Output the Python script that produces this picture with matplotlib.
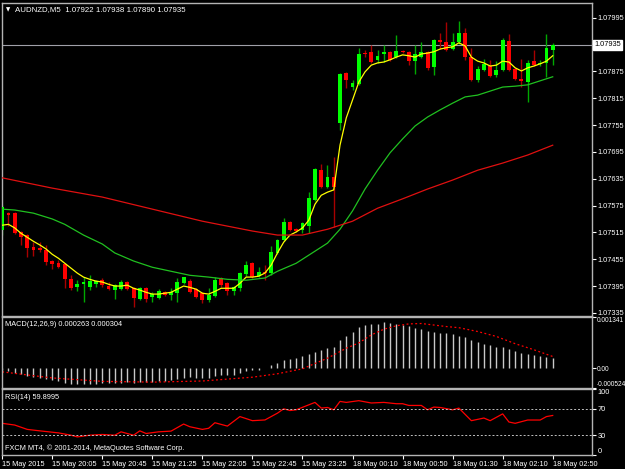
import matplotlib
matplotlib.use("Agg")
import matplotlib.pyplot as plt

plt.rcParams['font.family'] = ['Liberation Sans', 'DejaVu Sans']

# ---- data (AUDNZD, M5) ----
open_ = [1.07520, 1.07558, 1.07558, 1.07516, 1.07509, 1.07482, 1.07480, 1.07475, 1.07451, 1.07446,
         1.07444, 1.07410, 1.07392, 1.07399, 1.07392, 1.07399, 1.07408, 1.07395, 1.07386, 1.07388,
         1.07404, 1.07390, 1.07366, 1.07390, 1.07370, 1.07368, 1.07381, 1.07375, 1.07379, 1.07401,
         1.07406, 1.07388, 1.07379, 1.07363, 1.07372, 1.07413, 1.07401, 1.07383, 1.07390, 1.07422,
         1.07446, 1.07417, 1.07426, 1.07424, 1.07469, 1.07498, 1.07538, 1.07522, 1.07520, 1.07529,
         1.07587, 1.07654, 1.07616, 1.07639, 1.07760, 1.07872, 1.07840, 1.07847, 1.07916, 1.07919,
         1.07901, 1.07914, 1.07919, 1.07907, 1.07921, 1.07919, 1.07898, 1.07907, 1.07919, 1.07885,
         1.07945, 1.07941, 1.07925, 1.07941, 1.07961, 1.07907, 1.07856, 1.07878, 1.07887, 1.07867,
         1.07878, 1.07943, 1.07880, 1.07858, 1.07851, 1.07898, 1.07892, 1.07894, 1.07922]
high = [1.07576, 1.07560, 1.07560, 1.07518, 1.07511, 1.07493, 1.07493, 1.07487, 1.07453, 1.07453,
        1.07446, 1.07419, 1.07408, 1.07415, 1.07419, 1.07408, 1.07413, 1.07404, 1.07399, 1.07408,
        1.07406, 1.07392, 1.07392, 1.07392, 1.07381, 1.07388, 1.07383, 1.07390, 1.07413, 1.07415,
        1.07410, 1.07390, 1.07381, 1.07390, 1.07415, 1.07415, 1.07404, 1.07395, 1.07426, 1.07451,
        1.07448, 1.07437, 1.07442, 1.07484, 1.07500, 1.07547, 1.07540, 1.07525, 1.07538, 1.07605,
        1.07659, 1.07668, 1.07666, 1.07684, 1.07872, 1.07874, 1.07856, 1.07928, 1.07923, 1.07934,
        1.07923, 1.07934, 1.07921, 1.07957, 1.07923, 1.07921, 1.07934, 1.07941, 1.07921, 1.07948,
        1.07961, 1.07986, 1.07961, 1.07988, 1.07972, 1.07928, 1.07887, 1.07903, 1.07901, 1.07898,
        1.07950, 1.07959, 1.07883, 1.07903, 1.07901, 1.07923, 1.07901, 1.07959, 1.07938]
low = [1.07509, 1.07529, 1.07511, 1.07487, 1.07460, 1.07462, 1.07471, 1.07442, 1.07433, 1.07435,
       1.07390, 1.07386, 1.07383, 1.07359, 1.07386, 1.07392, 1.07392, 1.07386, 1.07366, 1.07386,
       1.07386, 1.07348, 1.07363, 1.07359, 1.07359, 1.07366, 1.07372, 1.07363, 1.07359, 1.07399,
       1.07379, 1.07368, 1.07357, 1.07359, 1.07370, 1.07392, 1.07375, 1.07375, 1.07383, 1.07417,
       1.07413, 1.07415, 1.07408, 1.07419, 1.07466, 1.07495, 1.07518, 1.07516, 1.07513, 1.07513,
       1.07585, 1.07614, 1.07614, 1.07527, 1.07744, 1.07838, 1.07834, 1.07845, 1.07907, 1.07894,
       1.07894, 1.07896, 1.07898, 1.07905, 1.07916, 1.07889, 1.07869, 1.07905, 1.07878, 1.07867,
       1.07925, 1.07921, 1.07923, 1.07936, 1.07901, 1.07854, 1.07851, 1.07876, 1.07863, 1.07863,
       1.07876, 1.07876, 1.07856, 1.07840, 1.07807, 1.07887, 1.07887, 1.07863, 1.07890]
close = [1.07572, 1.07554, 1.07513, 1.07504, 1.07480, 1.07475, 1.07475, 1.07448, 1.07444, 1.07437,
         1.07410, 1.07390, 1.07399, 1.07404, 1.07406, 1.07406, 1.07397, 1.07388, 1.07397, 1.07404,
         1.07388, 1.07368, 1.07390, 1.07366, 1.07377, 1.07383, 1.07375, 1.07381, 1.07404, 1.07415,
         1.07381, 1.07370, 1.07363, 1.07375, 1.07408, 1.07397, 1.07383, 1.07392, 1.07424, 1.07442,
         1.07415, 1.07426, 1.07424, 1.07471, 1.07498, 1.07538, 1.07520, 1.07518, 1.07536, 1.07592,
         1.07657, 1.07616, 1.07639, 1.07616, 1.07869, 1.07856, 1.07849, 1.07914, 1.07914, 1.07896,
         1.07910, 1.07919, 1.07901, 1.07921, 1.07919, 1.07898, 1.07914, 1.07919, 1.07883, 1.07945,
         1.07941, 1.07923, 1.07941, 1.07961, 1.07907, 1.07856, 1.07880, 1.07892, 1.07865, 1.07878,
         1.07945, 1.07878, 1.07858, 1.07854, 1.07894, 1.07889, 1.07894, 1.07928, 1.07935]

ma_fast = [1.07531, 1.07533, 1.07525, 1.07513, 1.07504, 1.07495, 1.07487, 1.07478, 1.07466, 1.07457,
           1.07446, 1.07435, 1.07424, 1.07415, 1.07410, 1.07406, 1.07404, 1.07399, 1.07395, 1.07395,
           1.07397, 1.07390, 1.07386, 1.07381, 1.07377, 1.07377, 1.07379, 1.07381, 1.07388, 1.07395,
           1.07392, 1.07388, 1.07379, 1.07377, 1.07383, 1.07390, 1.07390, 1.07390, 1.07401, 1.07415,
           1.07415, 1.07417, 1.07424, 1.07442, 1.07469, 1.07493, 1.07509, 1.07516, 1.07525, 1.07542,
           1.07578, 1.07598, 1.07605, 1.07610, 1.07710, 1.07771, 1.07811, 1.07851, 1.07874, 1.07889,
           1.07894, 1.07896, 1.07901, 1.07907, 1.07912, 1.07910, 1.07907, 1.07914, 1.07916, 1.07919,
           1.07925, 1.07928, 1.07930, 1.07939, 1.07932, 1.07907, 1.07898, 1.07894, 1.07887, 1.07889,
           1.07898, 1.07896, 1.07883, 1.07876, 1.07883, 1.07887, 1.07892, 1.07898, 1.07910]

ma_mid_idx = [0, 2, 5, 8, 10, 13, 16, 18, 21, 24, 27, 30, 33, 36, 39, 42, 44, 47, 50, 52, 54,
              56, 58, 60, 62, 64, 66, 68, 70, 72, 74, 76, 78, 80, 82, 84, 86, 88]
ma_mid = [1.07567, 1.07565, 1.07558, 1.07545, 1.07533, 1.07509, 1.07489, 1.07469, 1.07451, 1.07437,
          1.07428, 1.07419, 1.07415, 1.07410, 1.07408, 1.07413, 1.07428, 1.07446, 1.07473, 1.07491,
          1.07522, 1.07563, 1.07612, 1.07654, 1.07693, 1.07724, 1.07753, 1.07773, 1.07789, 1.07804,
          1.07818, 1.07822, 1.07831, 1.07840, 1.07842, 1.07845, 1.07854, 1.07863]

ma_slow_idx = [0, 8, 16, 24, 32, 40, 44, 48, 52, 56, 60, 64, 68, 72, 76, 80, 84, 88]
ma_slow = [1.07637, 1.07614, 1.07594, 1.07567, 1.07540, 1.07518, 1.07509, 1.07509, 1.07522, 1.07540,
           1.07569, 1.07590, 1.07612, 1.07632, 1.07654, 1.07670, 1.07688, 1.07710]

# MACD main (histogram) and signal, both in units of 1e-4
macd = [-0.5, -0.8, -1.2, -1.5, -2.0, -2.3, -2.6, -3.0, -3.2, -3.4,
        -3.8, -4.1, -4.3, -4.3, -4.2, -4.1, -4.0, -4.0, -3.9, -3.8,
        -3.7, -3.8, -3.7, -3.7, -3.7, -3.5, -3.4, -3.2, -2.8, -2.5,
        -2.4, -2.5, -2.6, -2.5, -2.1, -1.9, -1.8, -1.7, -1.3, -0.8,
        -0.6, -0.4, -0.1, 0.8, 1.3, 2.0, 2.4, 2.7, 3.1, 3.6,
        4.3, 4.8, 5.3, 5.6, 7.4, 8.4, 9.5, 10.7, 11.3, 11.7,
        11.7, 12.1, 11.8, 11.7, 11.3, 11.0, 10.6, 10.2, 9.7, 9.4,
        9.2, 9.1, 8.9, 8.5, 8.2, 7.3, 6.8, 6.4, 6.0, 5.6,
        5.5, 5.0, 4.4, 3.9, 3.8, 3.5, 3.2, 2.9, 2.63]
signal_idx = [0, 8, 16, 24, 32, 40, 44, 48, 52, 55, 57, 59, 61, 63, 65, 67, 69, 71, 73, 76,
              79, 82, 85, 88]
signal = [-1.0, -2.6, -3.5, -3.7, -3.4, -2.4, -1.5, -0.2, 2.6, 5.2, 6.6, 8.7, 10.2, 11.1, 11.6,
          11.7, 11.3, 10.9, 10.6, 9.6, 8.3, 6.4, 4.8, 3.04]

rsi_idx = [0, 2, 4, 6, 9, 11, 12, 14, 16, 18, 19, 21, 22, 23, 25, 27, 29, 30, 32, 33, 34, 36, 38,
           40, 42, 44, 45, 46, 47, 50, 51, 52, 53, 54, 55, 57, 59, 61, 63, 64, 65, 67, 68, 69, 70,
           72, 73, 75, 77, 78, 80, 81, 82, 84, 86, 87, 88]
rsi = [48.0, 45.4, 38.8, 36.6, 33.5, 30.0, 27.4, 30.0, 31.1, 30.0, 35.1, 30.0, 36.6, 32.6, 35.1,
       36.2, 46.9, 42.8, 38.8, 40.5, 48.9, 43.8, 58.2, 52.0, 53.1, 63.4, 70.0, 67.4, 68.5, 79.7,
       71.1, 72.0, 68.5, 81.2, 79.7, 82.3, 78.8, 79.7, 77.7, 77.7, 75.1, 75.1, 68.5, 72.6, 72.0,
       68.5, 71.1, 52.0, 56.0, 52.0, 62.3, 50.0, 48.0, 53.0, 53.0, 58.2, 59.9]

price_ticks = [1.07335, 1.07395, 1.07455, 1.07515, 1.07575, 1.07635, 1.07695, 1.07755,
               1.07815, 1.07875, 1.07935, 1.07995]
time_labels = ["15 May 2015", "15 May 20:05", "15 May 20:45", "15 May 21:25", "15 May 22:05",
               "15 May 22:45", "15 May 23:25", "18 May 00:10", "18 May 00:50", "18 May 01:30",
               "18 May 02:10", "18 May 02:50"]
last_price = 1.07935

BG = 'black'
FG = 'white'
EDGE = '#b4b4b4'
FS = 5.3
W, H = 625, 469


def frac(x0, y0, x1, y1):
    # pixel box -> figure fraction
    return [x0 / W, 1 - y1 / H, (x1 - x0) / W, (y1 - y0) / H]


fig = plt.figure(figsize=(6.25, 4.69), dpi=100, facecolor=BG)
ax = fig.add_axes(frac(2, 3, 592, 316))
ax_m = fig.add_axes(frac(2, 317, 592, 388))
ax_r = fig.add_axes(frac(2, 389, 592, 455))

xmin, xmax = -0.03, 94.28
for a in (ax, ax_m, ax_r):
    a.set_facecolor(BG)
    a.set_xlim(xmin, xmax)
    for s in a.spines.values():
        s.set_color(EDGE)
        s.set_linewidth(1.0)
    a.yaxis.tick_right()
    a.tick_params(axis='y', colors=FG, length=3, width=0.8, pad=1, labelsize=FS)
    a.tick_params(axis='x', bottom=False, labelbottom=False)

# ---- main price panel ----
n = len(close)
xs = list(range(n))
for i in xs:
    up = close[i] >= open_[i]
    wick_c = '#00a800' if up else '#a80000'
    body_c = '#00ff00' if up else '#ff0000'
    ax.vlines(i, low[i], high[i], color=wick_c, lw=1.0, zorder=2)
    b = min(open_[i], close[i])
    h = max(abs(close[i] - open_[i]), 0.000012)
    ax.bar(i, h, bottom=b, width=0.62, color=body_c, lw=0, zorder=3)

ax.plot(xs, ma_fast, color='#ffff00', lw=0.9, zorder=4)
ax.plot(ma_mid_idx, ma_mid, color='#20c020', lw=0.9, zorder=4)
ax.plot(ma_slow_idx, ma_slow, color='#e01010', lw=0.9, zorder=4)
ax.axhline(last_price, color='#a0a0a8', lw=0.8, zorder=1)

ax.set_ylim(1.07328, 1.08028)
ax.set_yticks(price_ticks)
ax.set_yticklabels(['%.5f' % v if v != last_price else '' for v in price_ticks])
ax.annotate('%.5f' % last_price, xy=(1, last_price), xycoords=('axes fraction', 'data'),
            xytext=(1.5, 0), textcoords='offset points', va='center', ha='left',
            fontsize=FS, color='black',
            bbox=dict(boxstyle='square,pad=0.2', fc='white', ec='white'))

ax.text(0.006, 0.987, u'\u25bc', transform=ax.transAxes, color=FG, fontsize=4,
        va='top', ha='left', family='DejaVu Sans')
ax.text(0.022, 0.99, 'AUDNZD,M5  1.07922 1.07938 1.07890 1.07935', transform=ax.transAxes,
        color=FG, fontsize=FS + 0.4, va='top', ha='left')

# ---- MACD panel ----
ax_m.vlines(xs, 0, [v * 1e-4 for v in macd], color='#c8c8c8', lw=1.0)
ax_m.plot(signal_idx, [v * 1e-4 for v in signal], color='#ff0000', lw=0.9, ls=(0, (1.5, 2)))
ax_m.set_ylim(-0.000524, 0.001341)
ax_m.set_yticks([0.001341, 0.0, -0.000524])
ax_m.set_yticklabels(['0.001341', '0.00', '-0.000524'])
ax_m.tick_params(axis='y', labelsize=4.7, pad=0.5)
labs = ax_m.get_yticklabels()
labs[0].set_va('top')
labs[2].set_va('bottom')
ax_m.text(0.005, 0.95, 'MACD(12,26,9) 0.000263 0.000304', transform=ax_m.transAxes,
          color=FG, fontsize=FS, va='top', ha='left')

# ---- RSI panel ----
ax_r.plot(rsi_idx, rsi, color='#ff0000', lw=0.9)
for lvl in (70, 30):
    ax_r.axhline(lvl, color='#c0c0c0', lw=0.7, ls=(0, (2, 2)))
ax_r.set_ylim(0, 100)
ax_r.set_yticks([100, 70, 30, 0])
ax_r.set_yticklabels(['100', '70', '30', '0'])
labs = ax_r.get_yticklabels()
labs[0].set_va('top')
labs[3].set_va('bottom')
ax_r.text(0.005, 0.93, 'RSI(14) 59.8995', transform=ax_r.transAxes,
          color=FG, fontsize=FS, va='top', ha='left')
ax_r.text(0.005, 0.05, u'FXCM MT4, \u00a9 2001-2014, MetaQuotes Software Corp.',
          transform=ax_r.transAxes, color=FG, fontsize=FS, va='bottom', ha='left')

ax_r.set_xticks(list(range(0, n, 8)))
ax_r.set_xticklabels(time_labels)
ax_r.tick_params(axis='x', bottom=True, labelbottom=True, colors=FG, length=3, width=0.8,
                 pad=1, labelsize=FS, direction='out')
for t in ax_r.get_xticklabels():
    t.set_ha('left')

fig.savefig('out.png', dpi=100, facecolor=BG)
